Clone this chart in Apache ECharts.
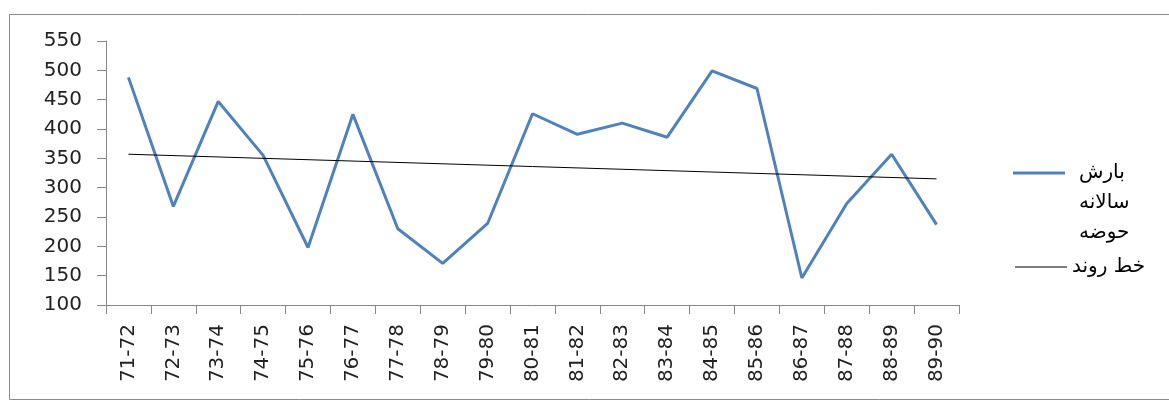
<!DOCTYPE html>
<html>
<head>
<meta charset="utf-8">
<script src="https://cdn.jsdelivr.net/npm/echarts@6/dist/echarts.min.js"></script>
<style>
html,body{margin:0;padding:0;background:#fff;}
#chart{width:1169px;height:400px;}
</style>
</head>
<body>
<div id="chart"></div>
<script>
const categories = ['71-72','72-73','73-74','74-75','75-76','76-77','77-78','78-79','79-80','80-81','81-82','82-83','83-84','84-85','85-86','86-87','87-88','88-89','89-90'];
const rainfall = [488, 268, 447, 355, 198, 425, 230, 171, 239, 426, 391, 410, 386, 499, 469, 146, 273, 357, 237];
const trendCategories = ['71-72', '89-90'];
const trendValues = [357, 315];
const rainName = 'بارش سالانه حوضه';
const trendName = 'خط روند';

const chart = echarts.init(document.getElementById('chart'));
const axisColor = '#868686';
const font = 'DejaVu Sans';
chart.setOption({
  animation: false,
  backgroundColor: '#fff',
  graphic: [{
    type: 'rect', left: 7, top: 12, silent: true,
    shape: {width: 1175, height: 385},
    style: {fill: 'none', stroke: '#8c8c8c', lineWidth: 1}
  }],
  grid: {left: 106, right: 210, top: 41, bottom: 95, containLabel: false},
  legend: [{
    data: [rainName], selectedMode: false, orient: 'vertical',
    left: 1013, top: 98, padding: 0,
    icon: 'rect', itemWidth: 52, itemHeight: 3,
    formatter: n => '\n\n' + n.split(' ').join('\n'),
    textStyle: {fontFamily: font, fontSize: 20, lineHeight: 30, color: '#000', padding: [0, 0, 0, 9]}
  }, {
    data: [trendName], selectedMode: false, orient: 'vertical',
    left: 1015, top: 252, padding: 0,
    icon: 'rect', itemWidth: 52, itemHeight: 1,
    textStyle: {fontFamily: font, fontSize: 20, lineHeight: 30, color: '#000'}
  }],
  xAxis: {
    type: 'category', data: categories, boundaryGap: true,
    axisLine: {lineStyle: {color: axisColor, width: 1}},
    axisTick: {show: true, length: 9, lineStyle: {color: axisColor}},
    axisLabel: {rotate: 90, margin: 19, interval: 0, fontFamily: font, fontSize: 20, color: '#222'},
    splitLine: {show: false}
  },
  yAxis: {
    type: 'value', min: 100, max: 550, interval: 50,
    axisLine: {show: true, lineStyle: {color: axisColor, width: 1}},
    axisTick: {show: true, length: 9, lineStyle: {color: axisColor}},
    axisLabel: {margin: 24, fontFamily: font, fontSize: 20, color: '#222'},
    splitLine: {show: false}
  },
  series: [{
    name: rainName, type: 'line', data: rainfall,
    symbol: 'none', smooth: false,
    lineStyle: {color: '#4f81bd', width: 3},
    itemStyle: {color: '#4f81bd'}
  }, {
    name: trendName, type: 'line',
    data: trendCategories.map((c, i) => [c, trendValues[i]]),
    symbol: 'none',
    lineStyle: {color: '#000', width: 1},
    itemStyle: {color: '#000'}
  }]
});
</script>
</body>
</html>
